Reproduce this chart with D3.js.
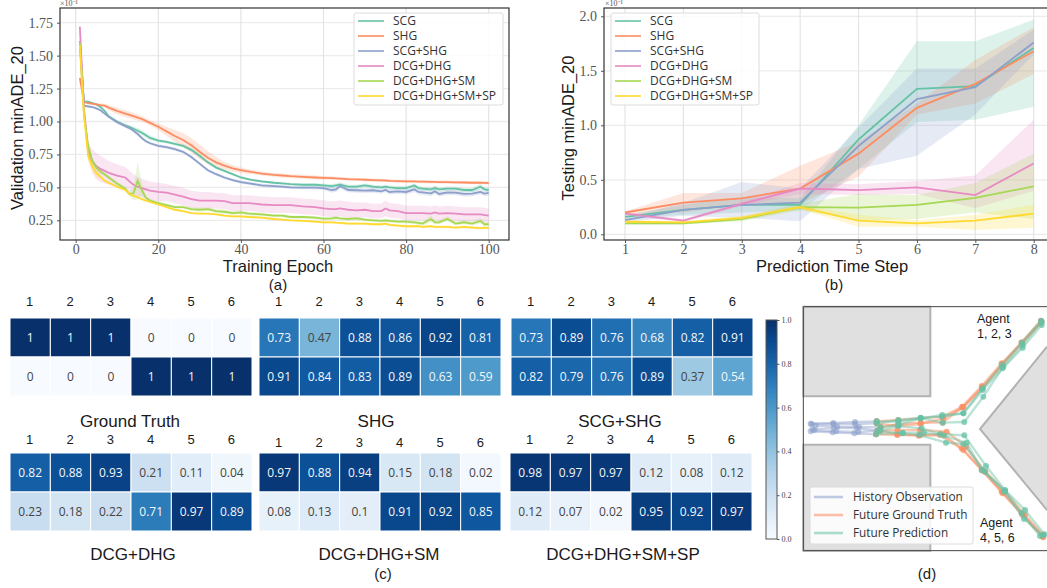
<!DOCTYPE html>
<html><head><meta charset="utf-8">
<script src="https://cdn.jsdelivr.net/npm/d3@7"></script>
<style>html,body{margin:0;padding:0;background:#fff;overflow:hidden}svg{display:block}</style>
</head><body><svg id="c" width="1047" height="588"></svg>
<script>
const seriesNames=["SCG","SHG","SCG+SHG","DCG+DHG","DCG+DHG+SM","DCG+DHG+SM+SP"];
const seriesColors=["#66c2a5","#fc8d62","#8da0cb","#e78ac3","#a6d854","#ffd92f"];
// Panel (a)
const epochs=[1,2,3,4,5,6,7,8,10,12,13,14,15,16,17,18,20,22,24,26,28,30,32,34,36,38,40,42,45,48,50,52,55,58,60,62,63,64,66,68,70,72,74,75,76,78,80,82,83,84,86,87,88,90,92,94,96,98,99,100];
const valScg=[1.61,1.15,1.15,1.14,1.13,1.11,1.08,1.04,1.00,.97,.96,.945,.93,.915,.895,.875,.855,.845,.83,.815,.785,.74,.69,.65,.625,.60,.575,.56,.545,.535,.53,.525,.52,.52,.515,.51,.515,.52,.505,.505,.515,.505,.50,.505,.50,.495,.495,.515,.495,.49,.485,.495,.485,.49,.49,.48,.48,.505,.485,.48];
const valShg=[1.33,1.15,1.14,1.135,1.13,1.125,1.12,1.105,1.08,1.06,1.05,1.04,1.03,1.02,1.005,.99,.96,.925,.89,.86,.82,.77,.725,.69,.665,.645,.63,.62,.605,.595,.59,.585,.58,.575,.572,.57,.568,.566,.562,.56,.558,.555,.553,.552,.55,.548,.545,.545,.544,.543,.542,.541,.54,.54,.538,.537,.535,.535,.534,.533];
const valScgShg=[1.60,1.12,1.115,1.11,1.10,1.085,1.06,1.035,.995,.965,.95,.93,.905,.875,.85,.835,.815,.805,.79,.77,.73,.68,.63,.60,.575,.555,.54,.53,.515,.51,.505,.50,.498,.498,.495,.48,.485,.51,.48,.478,.475,.478,.47,.48,.465,.47,.465,.485,.465,.462,.455,.47,.45,.462,.46,.45,.452,.465,.452,.458];
const valDcg=[1.72,1.10,.78,.70,.66,.64,.625,.61,.59,.575,.545,.52,.505,.495,.485,.475,.465,.46,.445,.43,.41,.40,.40,.40,.395,.38,.38,.38,.37,.365,.365,.365,.355,.35,.34,.335,.335,.34,.33,.325,.33,.32,.32,.34,.325,.32,.305,.305,.305,.305,.30,.31,.30,.305,.30,.295,.295,.295,.29,.285];
const valSm=[1.60,1.05,.82,.70,.65,.62,.60,.575,.53,.49,.45,.455,.55,.48,.42,.40,.38,.365,.35,.35,.335,.33,.335,.32,.315,.305,.31,.30,.295,.285,.285,.275,.275,.27,.262,.265,.27,.265,.26,.265,.255,.25,.245,.25,.245,.24,.24,.235,.23,.225,.26,.235,.235,.26,.225,.235,.225,.245,.22,.22];
const valSp=[1.58,1.05,.74,.66,.61,.58,.55,.535,.505,.48,.45,.435,.425,.41,.40,.39,.37,.35,.33,.32,.305,.30,.30,.295,.285,.28,.28,.275,.27,.26,.255,.25,.245,.24,.235,.235,.232,.23,.225,.225,.225,.22,.22,.225,.215,.21,.205,.205,.205,.20,.205,.20,.2,.2,.195,.2,.195,.19,.195,.19];
const sdScg=[.02,.01,.01,.01,.008,.008,.01,.01,.012,.012,.012,.015,.02,.02,.02,.018,.015,.012,.012,.012,.015,.015,.012,.01,.01,.01,.01,.01,.01,.01,.01,.01,.01,.012,.012,.015,.015,.02,.015,.015,.015,.015,.015,.015,.015,.015,.015,.015,.015,.015,.015,.015,.015,.015,.015,.015,.015,.02,.015,.015];
const sdShg=[.01,.01,.01,.01,.01,.012,.015,.02,.025,.025,.025,.025,.022,.022,.02,.02,.025,.035,.045,.05,.055,.055,.05,.04,.03,.025,.02,.018,.015,.015,.015,.015,.015,.015,.015,.015,.012,.012,.012,.012,.012,.012,.012,.012,.012,.012,.012,.012,.012,.012,.012,.012,.012,.012,.012,.012,.012,.012,.012,.012];
const sdScgShg=[.02,.01,.01,.01,.01,.01,.01,.01,.012,.012,.012,.012,.012,.012,.012,.012,.012,.012,.012,.012,.012,.012,.012,.012,.012,.012,.012,.012,.012,.012,.012,.012,.012,.015,.015,.02,.02,.02,.018,.018,.018,.018,.018,.018,.02,.02,.02,.02,.02,.02,.02,.02,.02,.02,.02,.02,.02,.02,.02,.02];
const sdDcg=[.06,.05,.06,.09,.1,.1,.095,.09,.085,.08,.08,.08,.075,.07,.07,.07,.07,.065,.065,.065,.065,.065,.065,.06,.06,.06,.06,.06,.06,.06,.06,.06,.06,.06,.06,.06,.06,.06,.06,.06,.055,.055,.055,.06,.055,.055,.055,.055,.055,.055,.055,.055,.055,.055,.055,.055,.055,.055,.055,.055];
const sdSm=[.03,.03,.03,.03,.025,.02,.015,.015,.015,.015,.015,.05,.14,.05,.02,.015,.012,.012,.012,.012,.015,.015,.015,.015,.015,.015,.015,.015,.012,.012,.012,.012,.012,.012,.012,.012,.012,.012,.012,.012,.012,.012,.012,.012,.012,.012,.012,.015,.015,.015,.025,.015,.015,.02,.015,.015,.015,.02,.015,.015];
const sdSp=[.03,.03,.04,.04,.03,.02,.012,.01,.01,.01,.008,.008,.008,.008,.008,.008,.008,.008,.008,.008,.008,.008,.008,.008,.008,.008,.008,.008,.008,.008,.008,.008,.008,.008,.01,.01,.01,.01,.01,.01,.01,.01,.01,.01,.01,.01,.01,.01,.01,.01,.01,.01,.01,.01,.01,.01,.01,.01,.01,.01];
const ticksAX=[0,20,40,60,80,100], ticksAY=[.25,.5,.75,1,1.25,1.5,1.75];
// Panel (b)
const steps=[1,2,3,4,5,6,7,8];
const bScg=[.16,.225,.27,.27,.87,1.335,1.36,1.71], bScgHi=[.18,.27,.34,.33,1.0,1.77,1.77,1.97], bScgLo=[.14,.18,.20,.22,.60,1.03,1.05,1.17];
const bShg=[.20,.29,.33,.42,.74,1.16,1.38,1.68], bShgHi=[.21,.38,.38,.63,.85,1.2,1.6,1.9], bShgLo=[.18,.20,.27,.28,.53,1.10,1.20,1.47];
const bSg=[.13,.225,.27,.29,.81,1.24,1.35,1.76], bSgHi=[.15,.29,.48,.42,.98,1.52,1.52,1.88], bSgLo=[.11,.17,.15,.12,.60,.72,1.10,1.65];
const bDcg=[.19,.125,.28,.42,.405,.43,.36,.65], bDcgHi=[.21,.14,.30,.47,.46,.49,.54,1.05], bDcgLo=[.17,.11,.26,.37,.36,.37,.24,.40];
const bSm=[.10,.10,.14,.25,.245,.27,.335,.44], bSmHi=[.11,.11,.16,.28,.37,.36,.47,.74], bSmLo=[.09,.09,.12,.22,.13,.14,.20,.14];
const bSp=[.115,.11,.15,.25,.125,.10,.125,.19], bSpHi=[.13,.12,.17,.27,.18,.13,.18,.27], bSpLo=[.10,.10,.13,.23,.07,.07,.04,.06];
const ticksBY=[0,.5,1,1.5,2];
// Panel (c)
const agents=[1,2,3,4,5,6];
const hmTitles=["Ground Truth","SHG","SCG+SHG","DCG+DHG","DCG+DHG+SM","DCG+DHG+SM+SP"];
const hmGT=[[1,1,1,0,0,0],[0,0,0,1,1,1]];
const hmSHG=[[.73,.47,.88,.86,.92,.81],[.91,.84,.83,.89,.63,.59]];
const hmSG=[[.73,.89,.76,.68,.82,.91],[.82,.79,.76,.89,.37,.54]];
const hmDCG=[[.82,.88,.93,.21,.11,.04],[.23,.18,.22,.71,.97,.89]];
const hmSM=[[.97,.88,.94,.15,.18,.02],[.08,.13,.1,.91,.92,.85]];
const hmSP=[[.98,.97,.97,.12,.08,.12],[.12,.07,.02,.95,.92,.97]];
const cbTicks=[0,.2,.4,.6,.8,1];
// Panel (d): positions, in map units
const histTracks=[
 [[152,371],[220,369],[285,366],[350,364]],[[167,377],[232,380],[297,381],[362,382]],
 [[152,394],[218,397],[283,400],[348,403]],[[163,391],[229,394],[295,396],[360,392]],
 [[155,372],[220,372],[285,372],[350,370]],[[158,388],[222,384],[290,384],[352,392]]];
const gtTracks=[
 [[350,364],[415,360],[482,355],[548,350],[607,320],[665,258],[725,190],[785,127],[843,62]],
 [[362,382],[415,372],[482,368],[548,368],[607,322],[667,262],[727,192],[787,128],[845,65]],
 [[350,370],[415,378],[482,372],[550,355],[610,322],[667,265],[728,195],[785,130],[843,68]],
 [[348,403],[412,405],[482,405],[548,403],[605,445],[665,510],[725,575],[785,640],[850,712]],
 [[360,392],[412,390],[480,390],[560,395],[618,440],[676,515],[735,575],[795,645],[850,705]],
 [[352,392],[412,403],[476,407],[540,405],[610,450],[668,512],[728,580],[788,645],[848,710]]];
const predTracks=[
 [[350,364],[415,365],[482,355],[547,345],[610,340],[668,270],[728,205],[788,143],[845,75]],
 [[362,382],[415,375],[482,355],[548,368],[613,366],[670,290],[730,200],[788,135],[845,65]],
 [[350,370],[415,360],[482,353],[545,350],[610,340],[668,265],[725,195],[785,128],[843,62]],
 [[360,392],[415,378],[485,385],[540,402],[613,406],[678,498],[735,570],[795,630],[853,703]],
 [[348,403],[428,398],[492,398],[552,407],[620,428],[665,510],[735,572],[785,640],[840,708]],
 [[352,392],[428,400],[478,405],[558,428],[610,432],[675,515],[733,575],[792,657],[848,706]]];
const blockTop=[[130,20],[511,20],[511,289],[130,289]];
const blockBottom=[[130,434],[511,434],[511,752],[130,752]];
const blockRight=[[861,140],[660,387],[861,630]];
const dLegend=["History Observation","Future Ground Truth","Future Prediction"];
const dColors=["#8da0cb","#fc8d62","#66c2a5"];

const svg=d3.select("#c");
const SERIF="'Liberation Serif',serif", SANS="'Liberation Sans',sans-serif", LEG="'Open Sans','DejaVu Sans',sans-serif";
function txt(x,y,s,size,opt={}){return svg.append("text").attr("x",x).attr("y",y).attr("font-family",opt.f||SANS).attr("font-size",size).attr("text-anchor",opt.a||"middle").attr("fill",opt.c||"#1a1a1a").text(s);}

function lineChart(o){
 const g=svg.append("g");
 const {x,y,box}=o;
 const [l,t,r,b]=box;
 const clipId="clip"+o.id;
 svg.append("clipPath").attr("id",clipId).append("rect").attr("x",l).attr("y",t).attr("width",r-l).attr("height",b-t);
 g.selectAll(".gy").data(o.yt).join("line").attr("x1",l).attr("x2",r).attr("y1",d=>y(d)).attr("y2",d=>y(d)).attr("stroke","#ececec").attr("stroke-width",1.3);
 g.selectAll(".gx").data(o.xt).join("line").attr("y1",t).attr("y2",b).attr("x1",d=>x(d)).attr("x2",d=>x(d)).attr("stroke","#e2e2e2").attr("stroke-width",1.1);
 const pl=g.append("g").attr("clip-path",`url(#${clipId})`);
 o.series.forEach((s,i)=>{
  const rows=o.xs.map((v,k)=>({x:v,y:s.v[k],lo:s.lo[k],hi:s.hi[k]}));
  pl.append("path").attr("d",d3.area().x(d=>x(d.x)).y0(d=>y(d.lo)).y1(d=>y(d.hi))(rows)).attr("fill",seriesColors[i]).attr("opacity",.22);
 });
 o.series.forEach((s,i)=>{
  const rows=o.xs.map((v,k)=>({x:v,y:s.v[k]}));
  pl.append("path").attr("d",d3.line().x(d=>x(d.x)).y(d=>y(d.y))(rows)).attr("fill","none").attr("stroke",seriesColors[i]).attr("stroke-width",1.8);
 });
 g.append("rect").attr("x",l).attr("y",t).attr("width",r-l).attr("height",b-t).attr("fill","none").attr("stroke","#333").attr("stroke-width",1.2);
 const ax=g.append("g").attr("transform",`translate(0,${b})`).call(d3.axisBottom(x).tickValues(o.xt).tickSize(3).tickPadding(1).tickFormat(d3.format("d")));
 const ay=g.append("g").attr("transform",`translate(${l},0)`).call(d3.axisLeft(y).tickValues(o.yt).tickSize(3).tickPadding(4).tickFormat(o.yf));
 [ax,ay].forEach(a=>{a.select(".domain").remove();a.selectAll("text").attr("font-family",SERIF).attr("font-size",14).attr("fill","#555");a.selectAll("line").attr("stroke","#555");});
 // legend
 const [lx,lyy,lw,lh]=o.leg;
 g.append("rect").attr("x",lx).attr("y",lyy).attr("width",lw).attr("height",lh).attr("rx",2).attr("fill","#fff").attr("fill-opacity",.85).attr("stroke","#dcdcdc");
 seriesNames.forEach((n,i)=>{
  const ry=lyy+8+i*15;
  g.append("line").attr("x1",lx+4).attr("x2",lx+30).attr("y1",ry).attr("y2",ry).attr("stroke",seriesColors[i]).attr("stroke-width",1.6);
  g.append("text").attr("x",lx+39).attr("y",ry+4).attr("font-family",LEG).attr("font-size",12).attr("fill","#333").text(n);
 });
}
const mkA=(v,sd)=>({v,lo:v.map((d,i)=>d-sd[i]),hi:v.map((d,i)=>d+sd[i])});
lineChart({id:"a",box:[60,8,509,240],x:d3.scaleLinear([0,100],[75.7,488.7]),y:d3.scaleLinear([.25,1.75],[220.3,22.7]),
 xs:epochs,xt:ticksAX,yt:ticksAY,yf:d3.format(".2f"),leg:[354,13,149,92],
 series:[mkA(valScg,sdScg),mkA(valShg,sdShg),mkA(valScgShg,sdScgShg),mkA(valDcg,sdDcg),mkA(valSm,sdSm),mkA(valSp,sdSp)]});
lineChart({id:"b",box:[604,8,1060,240],x:d3.scaleLinear([1,8],[625,1033.7]),y:d3.scaleLinear([0,2],[234.3,16.3]),
 xs:steps,xt:steps,yt:ticksBY,yf:d3.format(".1f"),leg:[611,13,148,92],
 series:[{v:bScg,lo:bScgLo,hi:bScgHi},{v:bShg,lo:bShgLo,hi:bShgHi},{v:bSg,lo:bSgLo,hi:bSgHi},{v:bDcg,lo:bDcgLo,hi:bDcgHi},{v:bSm,lo:bSmLo,hi:bSmHi},{v:bSp,lo:bSpLo,hi:bSpHi}]});
txt(60,6,"×10⁻¹",8,{f:SERIF,a:"start",c:"#555"});
txt(605,6,"×10⁻¹",8,{f:SERIF,a:"start",c:"#555"});
svg.append("text").attr("transform","translate(23,128) rotate(-90)").attr("text-anchor","middle").attr("font-family",SANS).attr("font-size",16.5).attr("fill","#1a1a1a").text("Validation minADE_20");
svg.append("text").attr("transform","translate(574,128) rotate(-90)").attr("text-anchor","middle").attr("font-family",SANS).attr("font-size",16.5).attr("fill","#1a1a1a").text("Testing minADE_20");
txt(278,272,"Training Epoch",16.5);
txt(832,272,"Prediction Time Step",16.5);
txt(278,290,"(a)",15); txt(834,290,"(b)",15); txt(383,579,"(c)",15); txt(927,579,"(d)",15);

// Heatmaps
const color=d3.scaleSequential(d3.interpolateBlues).domain([0,1]);
function heat(m,x0,x1,y0,y1,labY,title,titleX,titleY){
 const xb=d3.scaleBand().domain(agents).range([x0,x1]);
 const yb=d3.scaleBand().domain([0,1]).range([y0,y1]);
 const g=svg.append("g");
 m.forEach((row,r)=>row.forEach((v,c)=>{
  g.append("rect").attr("x",xb(agents[c])).attr("y",yb(r)).attr("width",xb.bandwidth()).attr("height",yb.bandwidth()).attr("fill",color(v)).attr("stroke","#fff").attr("stroke-width",1);
  g.append("text").attr("x",xb(agents[c])+xb.bandwidth()/2).attr("y",yb(r)+yb.bandwidth()/2+4).attr("text-anchor","middle").attr("font-family",LEG).attr("font-size",12).attr("fill",v>.5?"#f4f7fb":"#444").text(v);
 }));
 agents.forEach(a=>txt(xb(a)+xb.bandwidth()/2-.5,labY,a,13));
 txt(titleX,titleY,title,17);
}
heat(hmGT,10,252,318,396,306,hmTitles[0],130,427);
heat(hmSHG,259,501,318,396,306,hmTitles[1],376,427);
heat(hmSG,511,753,318,396,306,hmTitles[2],620,427);
heat(hmDCG,10,252,453,531,444,hmTitles[3],133,560);
heat(hmSM,259,501,453,531,447,hmTitles[4],379,560);
heat(hmSP,510,752,453,531,444,hmTitles[5],623,560);

// Colorbar
const cbY=d3.scaleLinear([0,1],[539,320]);
const grad=svg.append("defs").append("linearGradient").attr("id","cbg").attr("x1",0).attr("x2",0).attr("y1",1).attr("y2",0);
d3.range(0,1.001,.1).forEach(t=>grad.append("stop").attr("offset",t).attr("stop-color",color(t)));
svg.append("rect").attr("x",766).attr("y",320).attr("width",11).attr("height",219).attr("fill","url(#cbg)").attr("stroke","#555").attr("stroke-width",1);
const cbAx=svg.append("g").attr("transform","translate(777,0)").call(d3.axisRight(cbY).tickValues(cbTicks).tickSize(2.5).tickPadding(2).tickFormat(d3.format(".1f")));
cbAx.select(".domain").remove();
cbAx.selectAll("text").attr("font-family",SERIF).attr("font-size",8).attr("fill","#444");
cbAx.selectAll("line").attr("stroke","#555");

// Map
const mx=d3.scaleLinear([0,861],[760,1047]), my=d3.scaleLinear([0,864],[300,588]);
const poly=d3.line().x(d=>mx(d[0])).y(d=>my(d[1]));
[blockTop,blockBottom].forEach(b=>svg.append("path").attr("d",poly(b)+"Z").attr("fill","#e0e0e0").attr("stroke","#b2b2b2").attr("stroke-width",2));
svg.append("path").attr("d",poly(blockRight)).attr("fill","#e0e0e0").attr("stroke","#b2b2b2").attr("stroke-width",2);
svg.append("path").attr("d",`M${mx(900)},${my(20)}H${mx(130)}V${my(752)}H${mx(900)}`).attr("fill","none").attr("stroke","#444").attr("stroke-width",1);
function tracks(ts,col,lineOp,dotOp){
 ts.forEach(t=>{
  svg.append("path").attr("d",poly(t)).attr("fill","none").attr("stroke",col).attr("stroke-width",2.4).attr("opacity",lineOp);
  svg.selectAll(null).data(t).enter().append("circle").attr("cx",d=>mx(d[0])).attr("cy",d=>my(d[1])).attr("r",3).attr("fill",col).attr("opacity",dotOp);
 });
}
tracks(histTracks,dColors[0],.45,.6);
tracks(gtTracks,dColors[1],.5,.75);
tracks(predTracks,dColors[2],.45,.75);
svg.append("rect").attr("x",810).attr("y",487).attr("width",163).attr("height",57).attr("rx",2).attr("fill","#fff").attr("fill-opacity",.85).attr("stroke","#dcdcdc");
dLegend.forEach((n,i)=>{
 const ry=497+i*18;
 svg.append("line").attr("x1",814).attr("x2",843).attr("y1",ry).attr("y2",ry).attr("stroke",dColors[i]).attr("stroke-width",2.6).attr("opacity",.55);
 txt(853,ry+4,n,11.8,{f:LEG,a:"start",c:"#333"});
});
txt(977,323,"Agent",12.5,{a:"start"}); txt(977,338,"1, 2, 3",12.5,{a:"start"});
txt(980,527,"Agent",12.5,{a:"start"}); txt(980,542,"4, 5, 6",12.5,{a:"start"});
</script></body></html>
